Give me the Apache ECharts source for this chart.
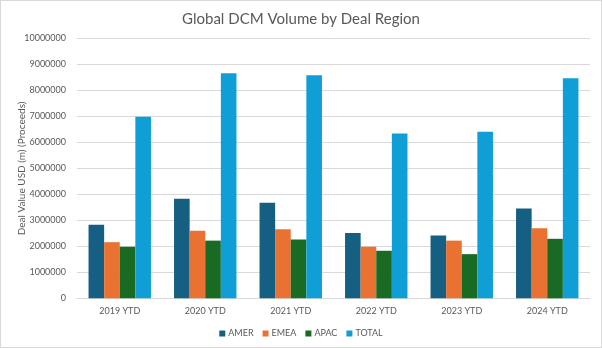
<!DOCTYPE html>
<html><head><meta charset="utf-8">
<script src="https://cdn.jsdelivr.net/npm/echarts@6/dist/echarts.min.js"></script>
<style>html,body{margin:0;padding:0;background:#fff}#c{width:600px;height:346px;border:1px solid #D9D9D9}</style>
</head><body><div id="c"></div>
<script>
const categories = ['2019 YTD','2020 YTD','2021 YTD','2022 YTD','2023 YTD','2024 YTD'];
const amer  = [2830000, 3830000, 3680000, 2510000, 2420000, 3460000];
const emea  = [2160000, 2600000, 2660000, 1980000, 2220000, 2700000];
const apac  = [1980000, 2220000, 2260000, 1830000, 1700000, 2290000];
const total = [6990000, 8660000, 8590000, 6340000, 6410000, 8470000];
const seriesNames = ['AMER','EMEA','APAC','TOTAL'];
const colors = ['#156082','#E97132','#196B24','#0F9ED5'];
const font = 'Lato, "Open Sans", sans-serif';
const chart = echarts.init(document.getElementById('c'));
const data = [amer, emea, apac, total];
chart.setOption({
  animation:false,
  title:{text:'Global DCM Volume by Deal Region',left:'center',top:6,
    textStyle:{fontFamily:font,fontSize:15,fontWeight:'normal',color:'#595959'}},
  legend:{data:seriesNames,bottom:4,itemWidth:6,itemHeight:6,itemGap:9,icon:'rect',
    textStyle:{fontFamily:font,fontSize:9,color:'#595959',padding:[0,0,0,-2]}},
  grid:{left:76,right:11,top:37.5,bottom:48.7},
  xAxis:{type:'category',data:categories,
    axisLine:{lineStyle:{color:'#D9D9D9'}},axisTick:{show:false},
    axisLabel:{fontFamily:font,fontSize:9,color:'#595959',margin:8}},
  yAxis:{type:'value',min:0,max:10000000,interval:1000000,
    name:'Deal Value USD (m) (Proceeds)',nameLocation:'middle',nameGap:50,nameMoveOverlap:false,
    nameTextStyle:{fontFamily:font,fontSize:10,color:'#595959'},
    axisLabel:{fontFamily:font,fontSize:9,color:'#595959',margin:11,formatter:v=>String(v)},
    splitLine:{lineStyle:{color:'#D9D9D9'}}},
  series: seriesNames.map((n,i)=>({name:n,type:'bar',data:data[i],
    itemStyle:{color:colors[i]},barGap:'0%',barCategoryGap:'27%'}))
});
</script></body></html>
